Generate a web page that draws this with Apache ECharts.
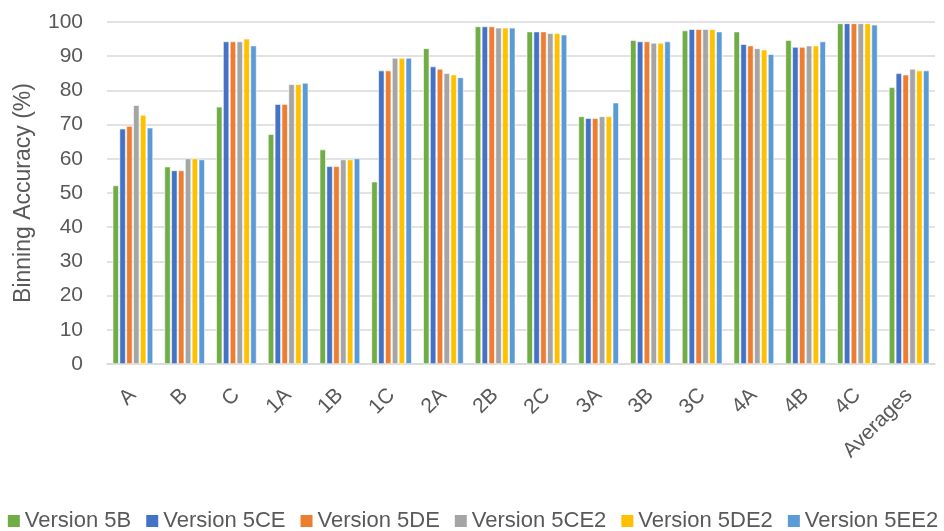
<!DOCTYPE html>
<html>
<head>
<meta charset="utf-8">
<script src="https://cdn.jsdelivr.net/npm/echarts@6/dist/echarts.min.js"></script>
<style>
  html, body { margin: 0; padding: 0; background: #fff; }
  #chart { width: 944px; height: 531px; }
</style>
</head>
<body>
<div id="chart"></div>
<script>
// Categories along the x axis
const categories = ['A', 'B', 'C', '1A', '1B', '1C', '2A', '2B', '2C', '3A', '3B', '3C', '4A', '4B', '4C', 'Averages'];

// Binning accuracy (%) for each version
const v5B   = [52.2, 57.7, 75.2, 67.2, 62.7, 53.3, 92.3, 98.7, 97.2, 72.4, 94.7, 97.5, 97.2, 94.7, 99.6, 80.9];
const v5CE  = [68.8, 56.6, 94.3, 76.0, 57.8, 85.8, 87.0, 98.7, 97.2, 71.9, 94.3, 97.9, 93.5, 92.7, 99.6, 85.0];
const v5DE  = [69.6, 56.6, 94.3, 76.0, 57.8, 85.8, 86.3, 98.7, 97.2, 71.9, 94.3, 97.9, 93.1, 92.7, 99.6, 84.6];
const v5CE2 = [75.7, 60.1, 94.3, 81.8, 59.8, 89.5, 85.0, 98.3, 96.7, 72.4, 93.9, 97.9, 92.3, 93.1, 99.6, 86.3];
const v5DE2 = [72.8, 60.1, 95.1, 81.8, 59.8, 89.5, 84.6, 98.3, 96.7, 72.4, 93.9, 97.9, 91.9, 93.1, 99.6, 85.8];
const v5EE2 = [69.1, 59.8, 93.1, 82.2, 60.1, 89.5, 83.8, 98.3, 96.3, 76.4, 94.3, 97.2, 90.6, 94.3, 99.2, 85.8];

// Y axis ticks
const yMin = 0, yMax = 100, yStep = 10;

const seriesDefs = [
  { name: 'Version 5B',   data: v5B,   color: '#70AD47' },
  { name: 'Version 5CE',  data: v5CE,  color: '#4472C4' },
  { name: 'Version 5DE',  data: v5DE,  color: '#ED7D31' },
  { name: 'Version 5CE2', data: v5CE2, color: '#A5A5A5' },
  { name: 'Version 5DE2', data: v5DE2, color: '#FFC000' },
  { name: 'Version 5EE2', data: v5EE2, color: '#5B9BD5' }
];

const font = '"Liberation Sans", sans-serif';
const textColor = '#595959';

const chart = echarts.init(document.getElementById('chart'), null, { renderer: 'canvas' });
chart.setOption({
  animation: false,
  textStyle: { fontFamily: font },
  grid: { left: 107, right: 9, top: 22, bottom: 167, containLabel: false },
  legend: {
    top: 505,
    left: 'center',
    itemWidth: 14,
    itemHeight: 14,
    itemGap: 13,
    icon: 'rect',
    textStyle: { fontFamily: font, fontSize: 22, color: textColor, padding: [0, 0, 0, -1] },
    data: seriesDefs.map(s => s.name)
  },
  xAxis: {
    type: 'category',
    data: categories,
    axisLine: { show: true, lineStyle: { color: '#d9d9d9', width: 1.5 } },
    axisTick: { show: false },
    axisLabel: {
      rotate: 45,
      interval: 0,
      margin: 28,
      fontFamily: font,
      fontSize: 21,
      color: textColor
    }
  },
  yAxis: {
    type: 'value',
    min: yMin,
    max: yMax,
    interval: yStep,
    name: 'Binning Accuracy (%)',
    nameLocation: 'middle',
    nameGap: 72,
    nameTextStyle: { fontFamily: font, fontSize: 23, color: textColor },
    axisLine: { show: false },
    axisTick: { show: false },
    axisLabel: { fontFamily: font, fontSize: 21, color: textColor, margin: 24 },
    splitLine: { show: true, lineStyle: { color: '#d9d9d9', width: 1.5 } }
  },
  series: seriesDefs.map(s => ({
    name: s.name,
    type: 'bar',
    data: s.data,
    barCategoryGap: '22%',
    barGap: '12%',
    itemStyle: { color: s.color, borderColor: '#ffffff', borderWidth: 0.6 }
  }))
});
</script>
</body>
</html>
